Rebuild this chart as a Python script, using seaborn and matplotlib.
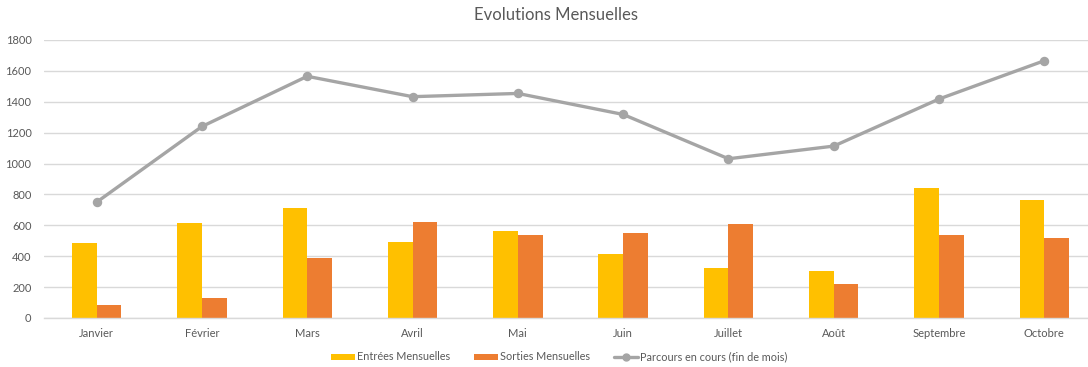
import matplotlib
matplotlib.use("Agg")
import matplotlib.pyplot as plt
from matplotlib.patches import Patch
from matplotlib.lines import Line2D
import numpy as np
import pandas as pd
import seaborn as sns

# Monthly figures
mois = ["Janvier", "Février", "Mars", "Avril", "Mai", "Juin",
        "Juillet", "Août", "Septembre", "Octobre"]
entrees = [488, 617, 710, 492, 561, 417, 324, 304, 840, 764]
sorties = [84, 127, 389, 624, 540, 553, 611, 222, 535, 516]
parcours = [750, 1240, 1565, 1433, 1454, 1318, 1031, 1113, 1418, 1666]

serie_entrees = "Entrées Mensuelles"
serie_sorties = "Sorties Mensuelles"
serie_parcours = "Parcours en cours (fin de mois)"

c_jaune = "#FFC000"
c_orange = "#ED7D31"
c_gris = "#A5A5A5"
c_texte = "#595959"
c_grille = "#D9D9D9"

sns.set_theme(style="white")
plt.rcParams["font.family"] = ["Lato", "DejaVu Sans"]

df_barres = pd.DataFrame({
    "mois": mois * 2,
    "valeur": entrees + sorties,
    "serie": [serie_entrees] * len(mois) + [serie_sorties] * len(mois),
})

fig = plt.figure(figsize=(10.88, 3.67), dpi=100)
ax = fig.add_axes([44 / 1088, 1 - 318 / 367, 1053 / 1088, 278 / 367])

sns.barplot(data=df_barres, x="mois", y="valeur", hue="serie", order=mois,
            hue_order=[serie_entrees, serie_sorties],
            palette=[c_jaune, c_orange], width=0.47, gap=0, dodge=True,
            saturation=1, errorbar=None, legend=False, linewidth=0,
            edgecolor="none", ax=ax, zorder=2)

sns.pointplot(x=mois, y=parcours, order=mois, color=c_gris, markers="o",
              linestyles="-", linewidth=2.4, markersize=5, errorbar=None,
              ax=ax, zorder=3)

ax.set_xlim(-0.5, len(mois) - 0.5)
ax.set_ylim(0, 1800)
ax.set_yticks(np.arange(0, 1801, 200))
ax.yaxis.grid(True, color=c_grille, linewidth=1)
ax.set_axisbelow(True)
for s in ["top", "right", "left"]:
    ax.spines[s].set_visible(False)
ax.spines["bottom"].set_color(c_grille)
ax.spines["bottom"].set_linewidth(1)
ax.tick_params(axis="both", length=0, labelsize=8, colors=c_texte)
ax.tick_params(axis="x", pad=7)
ax.tick_params(axis="y", pad=9)
ax.set_xlabel("")
ax.set_ylabel("")

fig.text(556 / 1088, 1 - 15 / 367, "Evolutions Mensuelles", ha="center",
         va="center", fontsize=12, color=c_texte)

handles = [
    Patch(facecolor=c_jaune, edgecolor="none"),
    Patch(facecolor=c_orange, edgecolor="none"),
    Line2D([0], [0], color=c_gris, linewidth=2.4, marker="o", markersize=5),
]
leg = fig.legend(handles, [serie_entrees, serie_sorties, serie_parcours],
                 loc="center", bbox_to_anchor=(559 / 1088, 1 - 357 / 367),
                 ncol=3, frameon=False, fontsize=7.8, handlelength=2.2,
                 handleheight=0.5, handletextpad=0.2, columnspacing=2.2)
for t in leg.get_texts():
    t.set_color(c_texte)

fig.savefig("out.png", dpi=100)
